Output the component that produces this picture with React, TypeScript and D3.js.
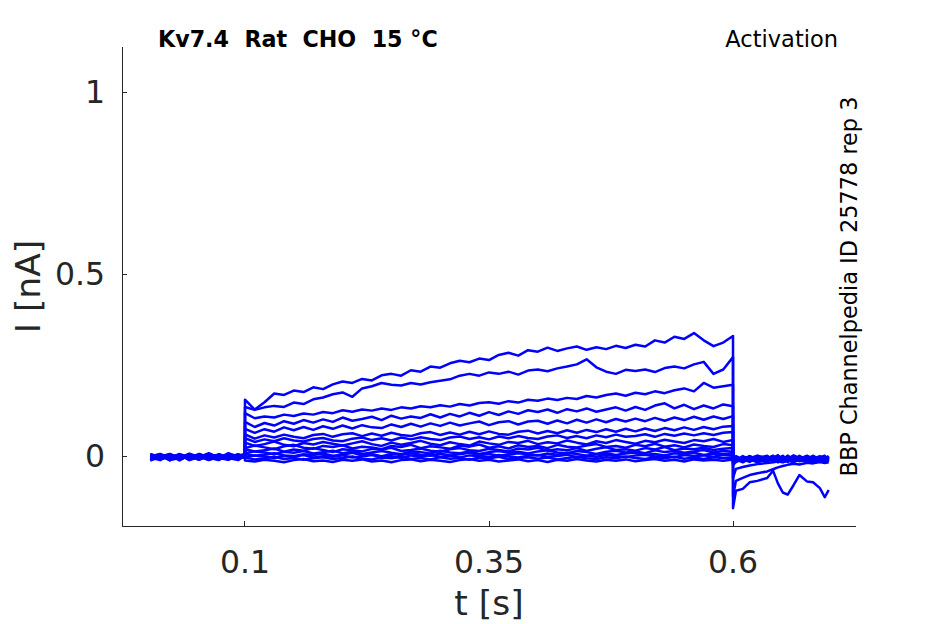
import React from "react";
import * as d3 from "d3";

// time grids (s)
const preTimes = [0.003, 0.013, 0.023, 0.033, 0.043, 0.053, 0.063, 0.073, 0.083, 0.093, 0.1];
const stepTimes = [
  0.1, 0.11, 0.12, 0.13, 0.14, 0.15, 0.16, 0.17, 0.18, 0.19,
  0.2, 0.21, 0.22, 0.23, 0.24, 0.25, 0.26, 0.27, 0.28, 0.29,
  0.3, 0.31, 0.32, 0.33, 0.34, 0.35, 0.36, 0.37, 0.38, 0.39,
  0.4, 0.41, 0.42, 0.43, 0.44, 0.45, 0.46, 0.47, 0.48, 0.49,
  0.5, 0.51, 0.52, 0.53, 0.54, 0.55, 0.56, 0.57, 0.58, 0.59, 0.6,
];
const tailTimes = [0.6, 0.603, 0.61, 0.617, 0.625, 0.635, 0.641, 0.646, 0.651, 0.656, 0.662, 0.668, 0.676, 0.682, 0.689, 0.694, 0.698];

// currents (nA) before the step, one row per sweep
const preCurrents = [
  [-0.003, 0.006, -0.01, 0.002, -0.006, 0.005, -0.002, -0.011, 0.003, -0.005, 0.002],
  [0.005, -0.006, 0.002, -0.012, 0.003, -0.003, 0.008, -0.005, -0.01, 0.003, -0.002],
  [-0.01, 0.002, -0.005, 0.006, -0.011, 0.0, -0.006, 0.005, -0.003, -0.008, 0.003],
  [0.002, -0.011, 0.005, -0.003, 0.003, -0.01, 0.002, -0.006, 0.008, -0.002, -0.005],
  [-0.006, 0.003, -0.012, 0.002, -0.005, 0.006, -0.008, 0.0, -0.003, 0.005, -0.006],
  [0.003, -0.005, 0.0, -0.008, 0.007, -0.002, -0.011, 0.003, -0.006, 0.002, 0.005],
  [-0.012, -0.002, 0.003, -0.006, -0.003, 0.002, -0.005, -0.01, 0.005, -0.003, 0.0],
  [0.0, 0.005, -0.008, 0.003, -0.01, -0.003, 0.006, -0.002, -0.008, 0.003, -0.003],
  [-0.005, -0.01, 0.002, -0.002, 0.005, -0.008, 0.0, 0.003, -0.005, -0.011, 0.002],
  [0.006, -0.003, -0.006, 0.005, -0.002, 0.003, -0.01, -0.003, 0.002, -0.006, 0.003],
  [-0.008, 0.0, 0.005, -0.01, 0.002, -0.006, 0.003, -0.008, 0.006, 0.0, -0.005],
  [0.002, -0.008, -0.003, 0.003, -0.008, 0.005, -0.003, 0.002, -0.01, 0.005, -0.002],
  [-0.002, 0.003, -0.011, -0.005, 0.005, -0.005, 0.002, -0.006, 0.0, -0.003, 0.006],
  [-0.011, 0.005, -0.002, 0.002, -0.006, 0.003, -0.008, 0.005, -0.005, 0.002, -0.003],
  [0.003, -0.005, 0.006, -0.008, 0.0, -0.01, 0.005, -0.003, 0.003, -0.008, 0.0],
];

// currents during the 0.1-0.6 s step
const stepCurrents = [
  [0.155, 0.128, 0.148, 0.172, 0.168, 0.18, 0.176, 0.189, 0.184, 0.197,
   0.205, 0.201, 0.212, 0.208, 0.222, 0.226, 0.221, 0.236, 0.232, 0.246,
   0.243, 0.255, 0.262, 0.258, 0.268, 0.264, 0.278, 0.284, 0.276, 0.291,
   0.287, 0.298, 0.289, 0.296, 0.301, 0.292, 0.299, 0.294, 0.303, 0.297,
   0.306, 0.301, 0.318, 0.312, 0.328, 0.322, 0.338, 0.318, 0.302, 0.312, 0.33],
  [0.135, 0.127, 0.134, 0.138, 0.135, 0.147, 0.143, 0.156, 0.161, 0.17,
   0.175, 0.163, 0.186, 0.192, 0.201, 0.196, 0.194, 0.201, 0.197, 0.203,
   0.207, 0.211, 0.221, 0.226, 0.221, 0.23, 0.226, 0.232, 0.224, 0.235,
   0.238, 0.233, 0.241, 0.246, 0.252, 0.266, 0.244, 0.232, 0.226, 0.237,
   0.234, 0.238, 0.231, 0.242, 0.246, 0.241, 0.252, 0.259, 0.226, 0.238, 0.272],
  [0.118, 0.104, 0.109, 0.106, 0.114, 0.11, 0.117, 0.114, 0.121, 0.118,
   0.126, 0.122, 0.128, 0.125, 0.131, 0.127, 0.134, 0.131, 0.137, 0.134,
   0.14, 0.136, 0.143, 0.139, 0.146, 0.148, 0.144, 0.151, 0.147, 0.155,
   0.152, 0.158, 0.154, 0.16, 0.157, 0.165, 0.161, 0.168, 0.172, 0.166,
   0.174, 0.17, 0.178, 0.173, 0.181, 0.186, 0.178, 0.201, 0.188, 0.192, 0.196],
  [0.094, 0.08, 0.091, 0.084, 0.096, 0.089, 0.099, 0.092, 0.101, 0.094,
   0.106, 0.097, 0.102, 0.108, 0.099, 0.111, 0.103, 0.109, 0.105, 0.115,
   0.106, 0.116, 0.109, 0.119, 0.111, 0.121, 0.113, 0.123, 0.116, 0.126,
   0.121, 0.128, 0.119, 0.129, 0.123, 0.131, 0.122, 0.128, 0.134, 0.125,
   0.135, 0.127, 0.139, 0.145, 0.131, 0.141, 0.129, 0.139, 0.131, 0.142, 0.137],
  [0.075, 0.064, 0.074, 0.067, 0.079, 0.071, 0.08, 0.072, 0.082, 0.075,
   0.084, 0.076, 0.085, 0.079, 0.077, 0.087, 0.08, 0.089, 0.081, 0.09,
   0.083, 0.092, 0.084, 0.09, 0.095, 0.085, 0.093, 0.096, 0.087, 0.095,
   0.097, 0.089, 0.098, 0.09, 0.1, 0.092, 0.101, 0.093, 0.102, 0.095,
   0.103, 0.096, 0.105, 0.097, 0.106, 0.099, 0.108, 0.1, 0.109, 0.102, 0.11],
  [0.06, 0.048, 0.057, 0.051, 0.059, 0.053, 0.049, 0.058, 0.061, 0.053,
   0.06, 0.063, 0.055, 0.062, 0.056, 0.064, 0.058, 0.055, 0.063, 0.066,
   0.058, 0.065, 0.059, 0.067, 0.06, 0.068, 0.061, 0.059, 0.067, 0.07,
   0.062, 0.069, 0.063, 0.071, 0.064, 0.072, 0.066, 0.074, 0.067, 0.075,
   0.068, 0.076, 0.069, 0.077, 0.071, 0.079, 0.072, 0.08, 0.074, 0.081, 0.083],
  [0.049, 0.039, 0.046, 0.041, 0.049, 0.043, 0.04, 0.047, 0.05, 0.043,
   0.041, 0.048, 0.051, 0.044, 0.049, 0.043, 0.051, 0.046, 0.052, 0.047,
   0.044, 0.051, 0.054, 0.047, 0.052, 0.046, 0.054, 0.049, 0.055, 0.05,
   0.047, 0.054, 0.057, 0.05, 0.055, 0.049, 0.057, 0.052, 0.059, 0.053,
   0.055, 0.06, 0.053, 0.061, 0.056, 0.062, 0.057, 0.063, 0.058, 0.064, 0.066],
  [0.037, 0.028, 0.033, 0.04, 0.031, 0.027, 0.036, 0.032, 0.039, 0.034,
   0.029, 0.035, 0.041, 0.033, 0.028, 0.037, 0.031, 0.036, 0.042, 0.034,
   0.03, 0.038, 0.033, 0.029, 0.04, 0.035, 0.031, 0.039, 0.036, 0.042,
   0.033, 0.038, 0.035, 0.043, 0.037, 0.032, 0.041, 0.036, 0.044, 0.039,
   0.034, 0.042, 0.038, 0.045, 0.04, 0.036, 0.044, 0.041, 0.047, 0.039, 0.044],
  [0.022, 0.029, 0.024, 0.019, 0.027, 0.031, 0.023, 0.02, 0.028, 0.025,
   0.03, 0.021, 0.026, 0.024, 0.019, 0.028, 0.025, 0.031, 0.022, 0.027,
   0.024, 0.02, 0.029, 0.026, 0.032, 0.023, 0.027, 0.021, 0.03, 0.025,
   0.028, 0.022, 0.031, 0.026, 0.024, 0.029, 0.033, 0.025, 0.028, 0.023,
   0.031, 0.027, 0.034, 0.026, 0.03, 0.024, 0.032, 0.028, 0.025, 0.033, 0.03],
  [0.019, 0.013, 0.016, 0.021, 0.012, 0.018, 0.015, 0.022, 0.017, 0.011,
   0.019, 0.016, 0.013, 0.02, 0.018, 0.023, 0.014, 0.017, 0.021, 0.015,
   0.012, 0.019, 0.022, 0.016, 0.014, 0.02, 0.017, 0.013, 0.021, 0.018,
   0.023, 0.015, 0.019, 0.016, 0.022, 0.014, 0.02, 0.024, 0.017, 0.019,
   0.015, 0.022, 0.018, 0.025, 0.016, 0.021, 0.019, 0.023, 0.017, 0.02, 0.022],
  [0.008, 0.013, 0.01, 0.005, 0.012, 0.009, 0.014, 0.007, 0.011, 0.015,
   0.008, 0.012, 0.006, 0.01, 0.014, 0.009, 0.005, 0.013, 0.011, 0.007,
   0.015, 0.01, 0.008, 0.013, 0.006, 0.011, 0.014, 0.009, 0.012, 0.007,
   0.013, 0.016, 0.01, 0.008, 0.014, 0.011, 0.006, 0.012, 0.015, 0.01,
   0.013, 0.008, 0.016, 0.011, 0.014, 0.009, 0.013, 0.017, 0.01, 0.014, 0.012],
  [0.006, 0.001, 0.004, 0.008, 0.002, 0.0, 0.005, 0.003, 0.007, 0.001,
   0.004, 0.009, 0.002, 0.005, 0.0, 0.006, 0.003, 0.008, 0.004, 0.001,
   0.007, 0.002, 0.005, 0.009, 0.003, 0.006, 0.001, 0.004, 0.008, 0.005,
   0.002, 0.007, 0.004, 0.009, 0.006, 0.001, 0.005, 0.008, 0.003, 0.007,
   0.01, 0.004, 0.006, 0.002, 0.008, 0.005, 0.009, 0.003, 0.007, 0.005, 0.008],
  [-0.003, 0.002, -0.001, -0.005, 0.001, -0.002, 0.003, -0.004, 0.0, -0.002,
   0.002, -0.004, -0.001, 0.003, -0.003, 0.0, -0.005, 0.002, -0.001, 0.003,
   -0.002, 0.001, -0.004, 0.002, 0.0, -0.003, 0.003, -0.001, -0.004, 0.001,
   0.003, -0.002, 0.0, 0.004, -0.003, 0.001, -0.002, 0.003, 0.0, -0.003,
   0.002, 0.004, -0.001, 0.001, -0.003, 0.003, 0.0, 0.002, -0.002, 0.004, 0.001],
  [-0.004, -0.009, -0.006, -0.002, -0.008, -0.005, -0.01, -0.006, -0.003, -0.008,
   -0.005, -0.001, -0.007, -0.009, -0.004, -0.006, -0.002, -0.008, -0.005, -0.009,
   -0.003, -0.007, -0.005, -0.01, -0.004, -0.006, -0.002, -0.008, -0.005, -0.003,
   -0.007, -0.004, -0.009, -0.005, -0.002, -0.006, -0.008, -0.003, -0.006, -0.001,
   -0.005, -0.008, -0.003, -0.006, -0.002, -0.007, -0.004, -0.008, -0.003, -0.005, -0.004],
  [-0.012, -0.015, -0.01, -0.013, -0.017, -0.011, -0.008, -0.014, -0.012, -0.016,
   -0.01, -0.013, -0.009, -0.015, -0.012, -0.017, -0.011, -0.009, -0.014, -0.01,
   -0.013, -0.016, -0.011, -0.008, -0.013, -0.01, -0.015, -0.012, -0.009, -0.014,
   -0.011, -0.016, -0.01, -0.013, -0.008, -0.012, -0.015, -0.01, -0.013, -0.009,
   -0.014, -0.011, -0.008, -0.013, -0.01, -0.015, -0.009, -0.012, -0.01, -0.013, -0.009],
];

// tail currents after the step
const tailCurrents = [
  [-0.143, -0.095, -0.09, -0.072, -0.068, -0.06, -0.04, -0.075, -0.1, -0.106, -0.08, -0.052, -0.07, -0.072, -0.088, -0.113, -0.093],
  [-0.11, -0.068, -0.06, -0.052, -0.047, -0.042, -0.036, -0.031, -0.027, -0.024, -0.021, -0.023, -0.018, -0.02, -0.016, -0.019, -0.017],
  [-0.06, -0.035, -0.03, -0.026, -0.022, -0.019, -0.017, -0.015, -0.017, -0.013, -0.015, -0.012, -0.014, -0.011, -0.013, -0.01, -0.012],
  [-0.025, -0.016, -0.009, -0.002, -0.012, -0.006, 0.001, -0.011, -0.005, -0.014, -0.003, -0.008, -0.001, -0.013, -0.005, -0.011, -0.007],
  [-0.02, -0.006, -0.015, -0.001, -0.009, -0.014, -0.004, 0.002, -0.012, -0.006, -0.016, -0.003, -0.011, 0.001, -0.009, -0.003, -0.013],
  [-0.018, -0.012, -0.003, -0.014, -0.006, 0.001, -0.011, -0.016, -0.003, -0.009, 0.0, -0.012, -0.005, -0.016, -0.002, -0.009, -0.005],
  [-0.016, -0.002, -0.011, -0.007, -0.017, -0.005, -0.012, -0.001, -0.009, 0.001, -0.011, -0.006, -0.014, -0.003, -0.012, 0.0, -0.009],
  [-0.014, -0.014, -0.005, -0.011, 0.001, -0.012, -0.003, -0.009, -0.016, -0.005, -0.001, -0.014, -0.007, 0.0, -0.011, -0.016, -0.003],
  [-0.012, -0.005, -0.014, 0.0, -0.009, -0.003, -0.016, -0.007, 0.001, -0.012, -0.006, -0.002, -0.013, -0.009, -0.003, -0.007, -0.014],
  [-0.01, -0.011, -0.002, -0.013, -0.005, -0.016, -0.002, -0.012, -0.006, -0.001, -0.014, -0.008, 0.001, -0.011, -0.016, -0.005, -0.001],
  [-0.009, -0.003, -0.012, -0.005, -0.015, -0.001, -0.009, 0.002, -0.011, -0.016, -0.005, -0.013, -0.003, -0.007, 0.0, -0.012, -0.008],
  [-0.008, -0.016, -0.006, -0.001, -0.011, -0.008, 0.0, -0.014, -0.003, -0.009, 0.002, -0.005, -0.016, -0.002, -0.007, -0.014, 0.0],
  [-0.007, 0.0, -0.009, -0.016, -0.003, -0.013, -0.006, -0.003, -0.014, 0.001, -0.011, -0.002, -0.009, -0.015, -0.003, 0.001, -0.011],
  [-0.006, -0.009, -0.017, -0.006, 0.001, -0.005, -0.014, -0.005, -0.001, -0.011, -0.017, -0.007, 0.0, -0.005, -0.013, -0.006, -0.016],
  [-0.005, -0.014, 0.0, -0.009, -0.016, -0.011, -0.003, -0.017, -0.009, -0.003, -0.013, 0.001, -0.011, -0.017, -0.006, -0.011, -0.002],
];

const xTicks = [0.1, 0.35, 0.6];
const yTicks = [0, 0.5, 1];

const axisColor = "#262626";
const font = "'DejaVu Sans', sans-serif";

const App: React.FC = () => {
  const width = 945;
  const height = 624;
  const left = 122, right = 856, top = 47, bottom = 526;

  const x = d3.scaleLinear().domain([-0.026, 0.726]).range([left, right]);
  const y = d3.scaleLinear().domain([-0.192, 1.124]).range([bottom, top]);

  const line = d3.line<[number, number]>()
    .x(d => x(d[0]))
    .y(d => y(d[1]));

  const sweeps = stepCurrents.map((step, i) => {
    const pts: [number, number][] = [];
    preTimes.forEach((t, j) => pts.push([t, preCurrents[i][j]]));
    stepTimes.forEach((t, j) => { if (step[j] !== undefined) pts.push([t, step[j]]); });
    tailTimes.forEach((t, j) => pts.push([t, tailCurrents[i][j]]));
    return pts;
  });

  return (
    <svg width={width} height={height} style={{ position: "absolute", left: 0, top: 0, background: "#fff" }} fontFamily={font}>
      <g>
        {sweeps.map((pts, i) => (
          <path key={i} d={line(pts) || ""} fill="none" stroke="#0000ff" strokeWidth={2.5} strokeLinejoin="round" />
        ))}
      </g>

      {/* axes */}
      <g stroke={axisColor} strokeWidth={1} shapeRendering="crispEdges">
        <line x1={left} x2={right} y1={bottom} y2={bottom} />
        <line x1={left} x2={left} y1={top} y2={bottom} />
        {xTicks.map(t => (
          <line key={"xt" + t} x1={x(t)} x2={x(t)} y1={bottom} y2={bottom - 5} />
        ))}
        {yTicks.map(t => (
          <line key={"yt" + t} x1={left} x2={left + 5} y1={y(t)} y2={y(t)} />
        ))}
      </g>
      <g fill={axisColor} fontSize={31.5}>
        {xTicks.map(t => (
          <text key={"xl" + t} x={x(t)} y={573} textAnchor="middle">{String(t)}</text>
        ))}
        {yTicks.map(t => (
          <text key={"yl" + t} x={105} y={y(t)} dy="0.36em" textAnchor="end">{String(t)}</text>
        ))}
      </g>
      <text x={(left + right) / 2} y={615} textAnchor="middle" fontSize={34.5} fill={axisColor}>t [s]</text>
      <text transform={`translate(40,${(top + bottom) / 2}) rotate(-90)`} textAnchor="middle" fontSize={34.5} fill={axisColor}>I [nA]</text>

      {/* annotations */}
      <text x={158} y={47} fontSize={22.2} fontWeight="bold" fill="#000" style={{ whiteSpace: "pre" }}>{"Kv7.4  Rat  CHO  15 °C"}</text>
      <text x={838} y={47} fontSize={22.5} textAnchor="end" fill="#000">Activation</text>
      <text transform={`translate(857,${(top + bottom) / 2}) rotate(-90)`} textAnchor="middle" fontSize={22.4} fill="#000">BBP Channelpedia ID 25778 rep 3</text>
    </svg>
  );
};

export default App;
